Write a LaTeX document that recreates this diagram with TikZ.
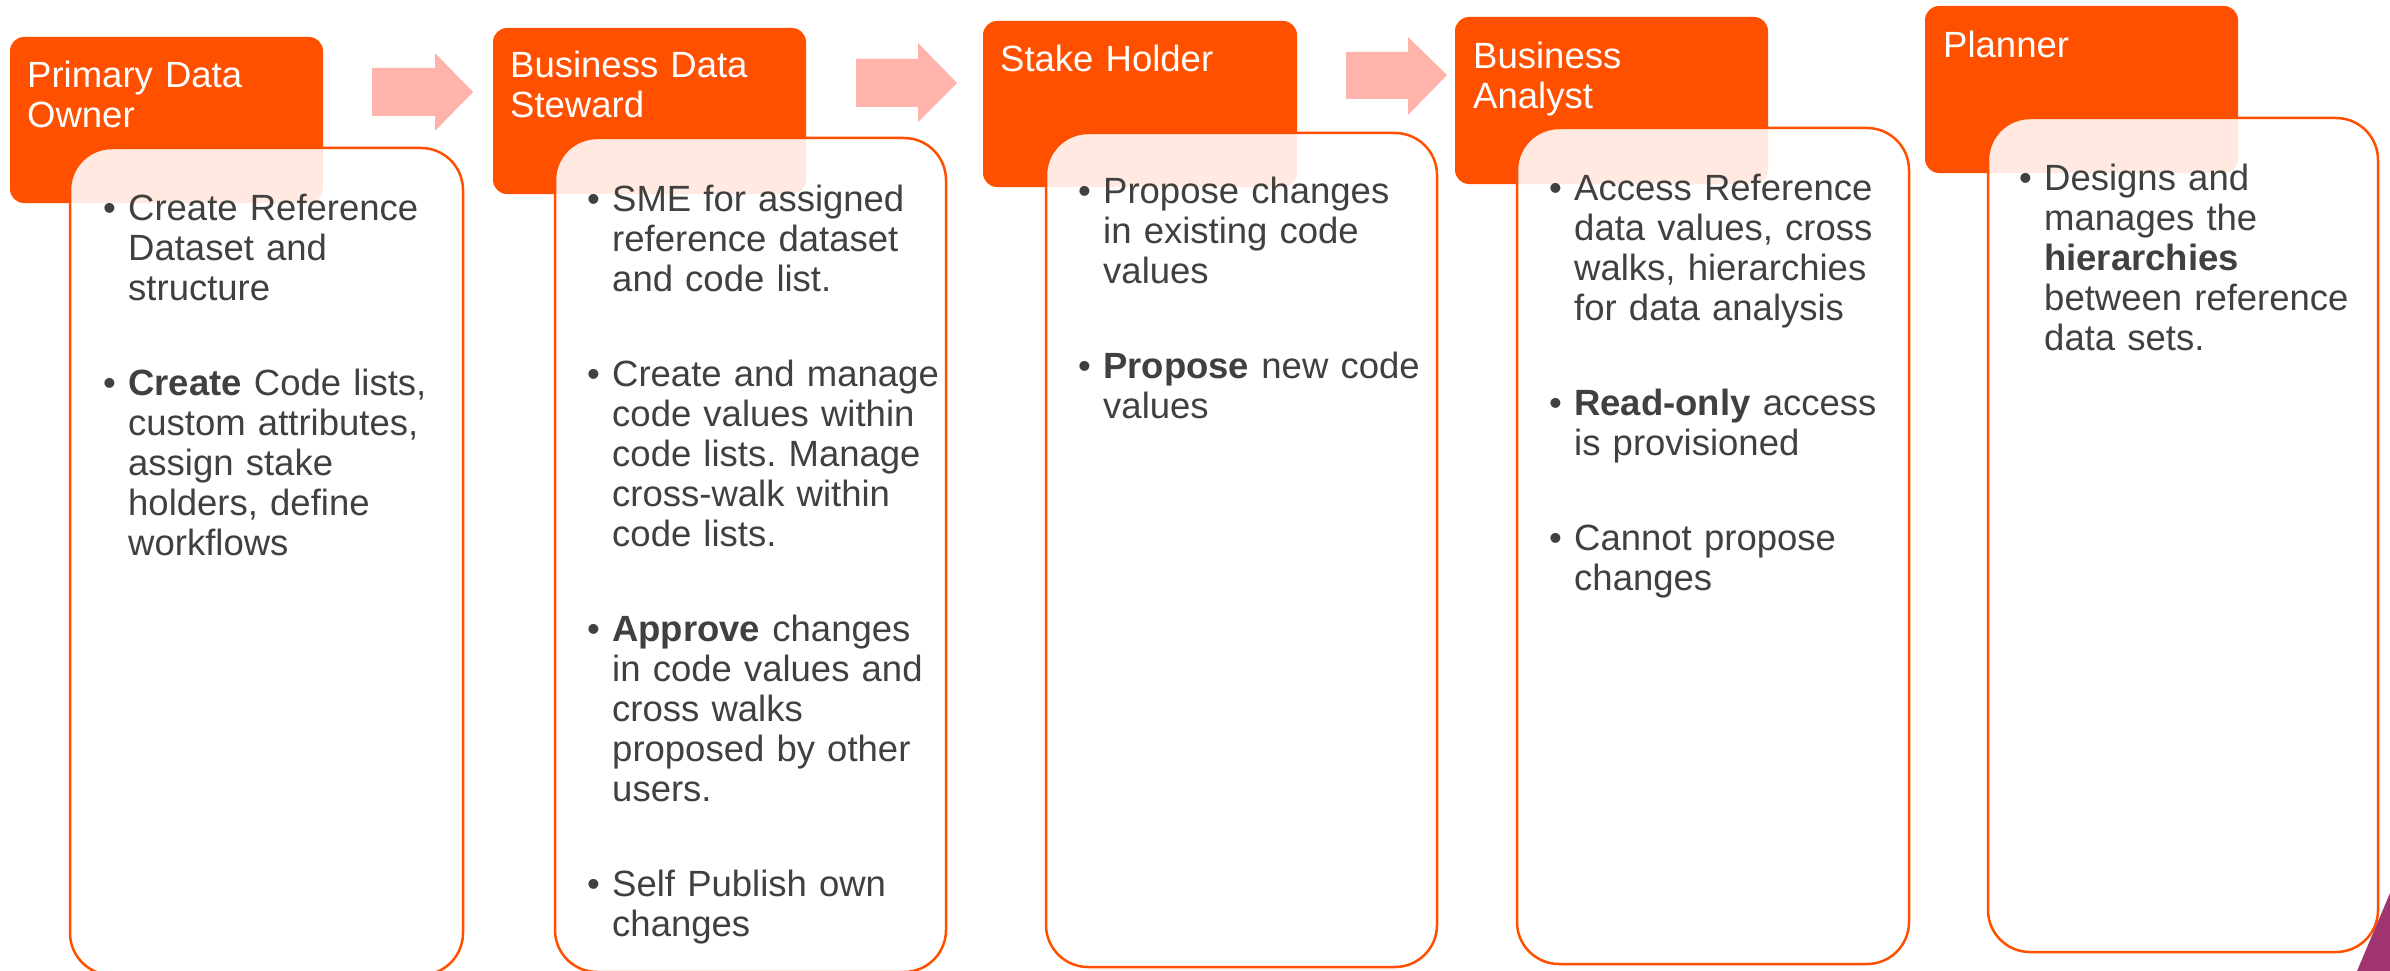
\documentclass[tikz,border=0pt]{standalone}
\usepackage{fontspec}
\setmainfont{Liberation Sans}
\frenchspacing
\definecolor{orng}{HTML}{FF5000}
\definecolor{arrc}{HTML}{FFB3AA}
\definecolor{txtc}{HTML}{404040}
\definecolor{purp}{HTML}{A0346F}
\newcommand\nl{\hfil\break}
\newcommand\bfirst{\noindent\hangindent=25pt\hangafter=1\hbox to 25pt{\textbullet\hss}\strut}
\newcommand\bnext{\par\vskip55pt\bfirst}
\tikzset{
  hdr/.style={fill=orng, rounded corners=14pt},
  bodybox/.style={draw=orng, line width=2.5pt, fill=white, fill opacity=0.88, draw opacity=1, rounded corners=42pt},
  blockarrow/.style={fill=arrc},
  htext/.style={anchor=north west, inner sep=0pt, text=white, text width=300pt, font=\fontsize{36.5}{40}\selectfont\frenchspacing},
  btext/.style={anchor=north west, inner sep=0pt, text=txtc, text width=440pt, font=\fontsize{36.5}{40}\selectfont\frenchspacing},
}
\begin{document}
\begin{tikzpicture}[x=1pt,y=-1pt]
\useasboundingbox (0,0) rectangle (2390,971);
\clip (0,0) rectangle (2390,971);
\fill[white] (0,0) rectangle (2390,971);

% block arrows
\fill[blockarrow] (372,68) -- (435,68) -- (435,53) -- (473,92) -- (435,131) -- (435,116) -- (372,116) -- cycle;
\fill[blockarrow] (856,59) -- (918,59) -- (918,43) -- (957,83) -- (918,122) -- (918,107) -- (856,107) -- cycle;
\fill[blockarrow] (1346,52) -- (1408,52) -- (1408,37) -- (1447,75) -- (1408,115) -- (1408,99) -- (1346,99) -- cycle;

% headers
\coordinate (h1a) at (10,37);   \coordinate (h1b) at (323,203);
\coordinate (h2a) at (493,28);  \coordinate (h2b) at (806,194);
\coordinate (h3a) at (983,21);  \coordinate (h3b) at (1297,187);
\coordinate (h4a) at (1455,17); \coordinate (h4b) at (1768,184);
\coordinate (h5a) at (1925,6);  \coordinate (h5b) at (2238,173);
\fill[hdr] (h1a) rectangle (h1b);
\fill[hdr] (h2a) rectangle (h2b);
\fill[hdr] (h3a) rectangle (h3b);
\fill[hdr] (h4a) rectangle (h4b);
\fill[hdr] (h5a) rectangle (h5b);

% body boxes
\coordinate (b1a) at (70,148);   \coordinate (b1b) at (463,975);
\coordinate (b2a) at (555,138);  \coordinate (b2b) at (946,972);
\coordinate (b3a) at (1046,133); \coordinate (b3b) at (1437,967);
\coordinate (b4a) at (1517,128); \coordinate (b4b) at (1909,964);
\coordinate (b5a) at (1988,118); \coordinate (b5b) at (2378,952);
\draw[bodybox] (b1a) rectangle (b1b);
\draw[bodybox] (b2a) rectangle (b2b);
\draw[bodybox] (b3a) rectangle (b3b);
\draw[bodybox] (b4a) rectangle (b4b);
\draw[bodybox] (b5a) rectangle (b5b);

% header texts
\node[htext] (t1) at (27,59) {\strut Primary Data\nl Owner};
\node[htext] (t2) at (510,49) {\strut Business Data\nl Steward};
\node[htext] (t3) at (1000,43) {\strut Stake Holder};
\node[htext] (t4) at (1473,40) {\strut Business\nl Analyst};
\node[htext] (t5) at (1943,29) {\strut Planner};

% body texts
\node[btext] (x1) at (103,192) {\bfirst Create Reference\nl Dataset and\nl structure
\bnext \textbf{Create} Code lists,\nl custom attributes,\nl assign stake\nl holders, define\nl workflows\par};
\node[btext] (x2) at (587,183) {\bfirst SME for assigned\nl reference dataset\nl and code list.
\bnext Create and manage\nl code values within\nl code lists. Manage\nl cross-walk within\nl code lists.
\bnext \textbf{Approve} changes\nl in code values and\nl cross walks\nl proposed by other\nl users.
\bnext Self Publish own\nl changes\par};
\node[btext] (x3) at (1078,175) {\bfirst Propose changes\nl in existing code\nl values
\bnext \textbf{Propose} new code\nl values\par};
\node[btext] (x4) at (1549,172) {\bfirst Access Reference\nl data values, cross\nl walks, hierarchies\nl for data analysis
\bnext \textbf{Read-only} access\nl is provisioned
\bnext Cannot propose\nl changes\par};
\node[btext] (x5) at (2019,162) {\bfirst Designs and\nl manages the\nl \textbf{hierarchies}\nl between reference\nl data sets.\par};

% decorative corner
\fill[purp] (2390,893) -- (2357,971) -- (2390,971) -- cycle;
\end{tikzpicture}
\end{document}
